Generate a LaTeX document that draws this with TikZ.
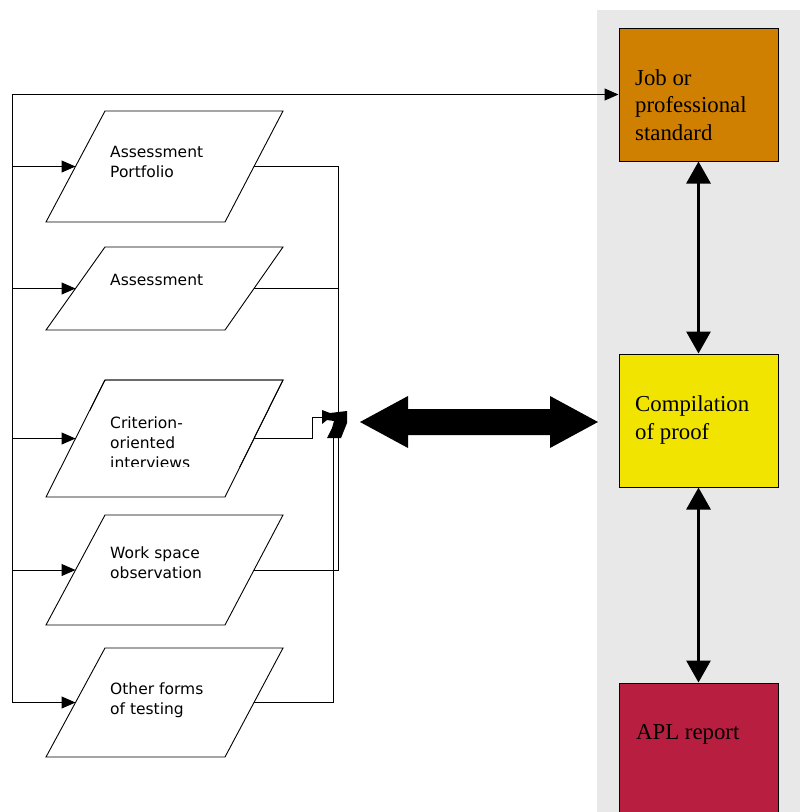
\documentclass[tikz,border=0pt]{standalone}
\usepackage{fontspec}
\setmainfont{Liberation Serif}
\newfontfamily\parafont{DejaVu Sans}
\usetikzlibrary{arrows.meta}
\definecolor{panelgray}{RGB}{232,232,232}
\definecolor{joborange}{RGB}{208,128,0}
\definecolor{proofyellow}{RGB}{240,228,0}
\definecolor{aplred}{RGB}{184,30,64}
\newcommand\mkpara[5]{% name, top, bottom, last baseline, text
  \draw[parashape] (105,#2) -- (283,#2) -- (225,#3) -- (46,#3) -- cycle;
  \coordinate (#1-w) at (75.5,{(#2+#3)/2});
  \coordinate (#1-e) at (254,{(#2+#3)/2});
  \node[paratext] (#1) at (110,#4) {#5};
}
\begin{document}
\begin{tikzpicture}[x=1pt,y=-1pt,
  line/.style={draw=black, line width=1pt},
  smallarr/.style={line, -{Triangle[length=14pt,width=12pt]}},
  bigarr/.style={draw=black, line width=3pt, {Triangle[length=22pt,width=24pt]}-{Triangle[length=22pt,width=24pt]}},
  stdbox/.style={draw=black, line width=1pt, minimum width=159pt, inner sep=0pt},
  boxtext/.style={font=\fontsize{22.8}{27.5}\selectfont, align=left, anchor=base west, inner sep=0pt},
  paratext/.style={font=\parafont\fontsize{15.5}{20}\selectfont, align=left, anchor=base west, inner sep=0pt},
  parashape/.style={draw=black, line width=0.9pt, fill=white},
  blob/.style={fill=black}
]
\useasboundingbox (0,0) rectangle (800,812);
\fill[panelgray] (597,10) rectangle (800,812);

% right-hand boxes
\node[stdbox, fill=joborange, minimum height=133pt] (job) at (698.5,94.5) {};
\node[stdbox, fill=proofyellow, minimum height=133pt] (proof) at (698.5,420.5) {};
\node[stdbox, fill=aplred, minimum height=130pt] (apl) at (698.5,748) {};
\node[boxtext] (jobtext) at (635,140) {Job or\\professional\\standard};
\node[boxtext] (prooftext) at (635,439) {Compilation\\of proof};
\node[boxtext] (apltext) at (636,739) {APL report};

\draw[bigarr] (job.south) -- (proof.north);
\draw[bigarr] (proof.south) -- (apl.north);

% parallelograms
\mkpara{p1}{111}{222}{177}{Assessment\\Portfolio}
\mkpara{p2}{247}{330}{285}{Assessment}
\begin{scope}
  \clip (90,370) rectangle (300,466);
  \mkpara{p3}{380}{497}{468}{Criterion-\\oriented\\interviews}
\end{scope}
\draw[parashape, fill=none] (105,380) -- (283,380) -- (225,497) -- (46,497) -- cycle;
\mkpara{p4}{515}{625}{578}{Work space\\observation}
\mkpara{p5}{648}{757}{714}{Other forms\\of testing}

% left bus
\coordinate (bustop) at (12,94.5);
\draw[smallarr] (p5-w -| bustop) -- (bustop) -- (job.west);
\foreach \p in {p1,p2,p3,p4,p5}
  \draw[smallarr] (\p-w -| bustop) -- (\p-w);

% right collector
\coordinate (rx) at (338,0);
\coordinate (j3a) at (312,417);
\coordinate (jin) at (323,417);
\coordinate (jbot) at (333,434);
\draw[line] (p1-e) -- (p1-e -| rx) -- (p4-e -| rx) -- (p4-e);
\draw[line] (p2-e) -- (p2-e -| rx);
\draw[line] (p3-e) -| (j3a) -- (jin);
\draw[line] (p5-e) -| (jbot);
\fill[blob] (322,410) -- (330,413) -- (347,411) -- (347,423) -- (341,438) -- (327,438)
  -- (332,428) -- (334,421) -- (327,420) -- (322,424) -- cycle;

% big double arrow
\fill[black] (360,422) -- (408,396) -- (408,409) -- (550,409) -- (550,396) -- (598,422)
  -- (550,448) -- (550,435) -- (408,435) -- (408,448) -- cycle;
\end{tikzpicture}
\end{document}
